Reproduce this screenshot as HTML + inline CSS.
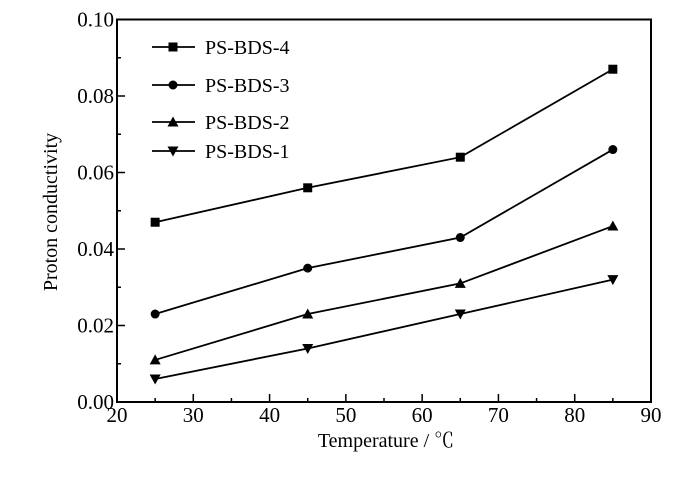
<!DOCTYPE html>
<html><head><meta charset="utf-8"><style>
body{margin:0;background:#fff;}
svg text{font-family:"Liberation Serif","Noto Serif CJK SC",serif;fill:#000;}
</style></head><body>
<svg id="chart" width="700" height="481" xmlns="http://www.w3.org/2000/svg"></svg>
<script>
const temps=[25,45,65,85];
const bds4=[0.047,0.056,0.064,0.087];
const bds3=[0.023,0.035,0.043,0.066];
const bds2=[0.011,0.023,0.031,0.046];
const bds1=[0.006,0.014,0.023,0.032];
const xTicks=[20,30,40,50,60,70,80,90];
const yTicks=[0,0.02,0.04,0.06,0.08,0.10];
const seriesNames=["PS-BDS-4","PS-BDS-3","PS-BDS-2","PS-BDS-1"];

const L=117,R=651,T=19.5,B=402;
const sx=v=>L+(v-20)/(90-20)*(R-L);
const sy=v=>B-(v/0.10)*(B-T);
const svg=document.getElementById('chart');
const NS="http://www.w3.org/2000/svg";
function mk(tag,attrs,parent){const e=document.createElementNS(NS,tag);for(const k in attrs)e.setAttribute(k,attrs[k]);(parent||svg).appendChild(e);return e;}

const frame=mk('rect',{x:L,y:T,width:R-L,height:B-T,fill:'none',stroke:'#000','stroke-width':2});



xTicks.forEach((v,i)=>{
  const x=sx(v);
  const t=mk('line',{x1:x,x2:x,y1:B,y2:B-8,stroke:'#000','stroke-width':1.5});
  
  
  if(i<xTicks.length-1){const xm=sx(v+5);const m=mk('line',{x1:xm,x2:xm,y1:B,y2:B-4,stroke:'#000','stroke-width':1.5});
    
    }
  const lb=mk('text',{x:x,y:B+20,'text-anchor':'middle','font-size':21});
  lb.textContent=v;
  
  
});
yTicks.forEach((v,i)=>{
  const y=sy(v);
  const t=mk('line',{x1:L,x2:L+8,y1:y,y2:y,stroke:'#000','stroke-width':1.5});
  
  
  if(i<yTicks.length-1){const ym=sy(v+0.01);const m=mk('line',{x1:L,x2:L+4,y1:ym,y2:ym,stroke:'#000','stroke-width':1.5});
    
    }
  const lb=mk('text',{x:L-3,y:y+7,'text-anchor':'end','font-size':21});
  lb.textContent=v.toFixed(2);
  
  
});

const xt=mk('text',{x:386,y:447,'text-anchor':'middle','font-size':20});
xt.textContent='Temperature / ℃';


const yt=mk('text',{x:0,y:0,'text-anchor':'middle','font-size':20,transform:'translate(57,212) rotate(-90)'});
yt.textContent='Proton conductivity';



function marker(kind,x,y,g){
  if(kind==='square') return mk('rect',{x:x-4.5,y:y-4.5,width:9,height:9,fill:'#000'},g);
  if(kind==='circle') return mk('circle',{cx:x,cy:y,r:4.5,fill:'#000'},g);
  if(kind==='up') return mk('polygon',{points:`${x},${y-5.5} ${x-5.5},${y+4.5} ${x+5.5},${y+4.5}`,fill:'#000'},g);
  return mk('polygon',{points:`${x},${y+5.5} ${x-5.5},${y-4.5} ${x+5.5},${y-4.5}`,fill:'#000'},g);
}
const allSeries=[bds4,bds3,bds2,bds1];
const kinds=['square','circle','up','down'];
const legendY=[47,85,122,151];
allSeries.forEach((data,si)=>{
  const g=mk('g',{});
  
  
  const pts=data.map((v,i)=>sx(temps[i])+','+sy(v)).join(' ');
  const pl=mk('polyline',{points:pts,fill:'none',stroke:'#000','stroke-width':1.8},g);
  
  
  data.forEach((v,i)=>{const m=marker(kinds[si],sx(temps[i]),sy(v),g);
    
    });
  const lg=mk('g',{});
  
  
  const ly=legendY[si];
  mk('line',{x1:152,x2:195,y1:ly,y2:ly,stroke:'#000','stroke-width':1.8},lg);
  marker(kinds[si],173,ly,lg);
  const lt=mk('text',{x:205,y:ly+7,'font-size':20},lg);
  lt.textContent=seriesNames[si];
});
</script>
</body></html>
